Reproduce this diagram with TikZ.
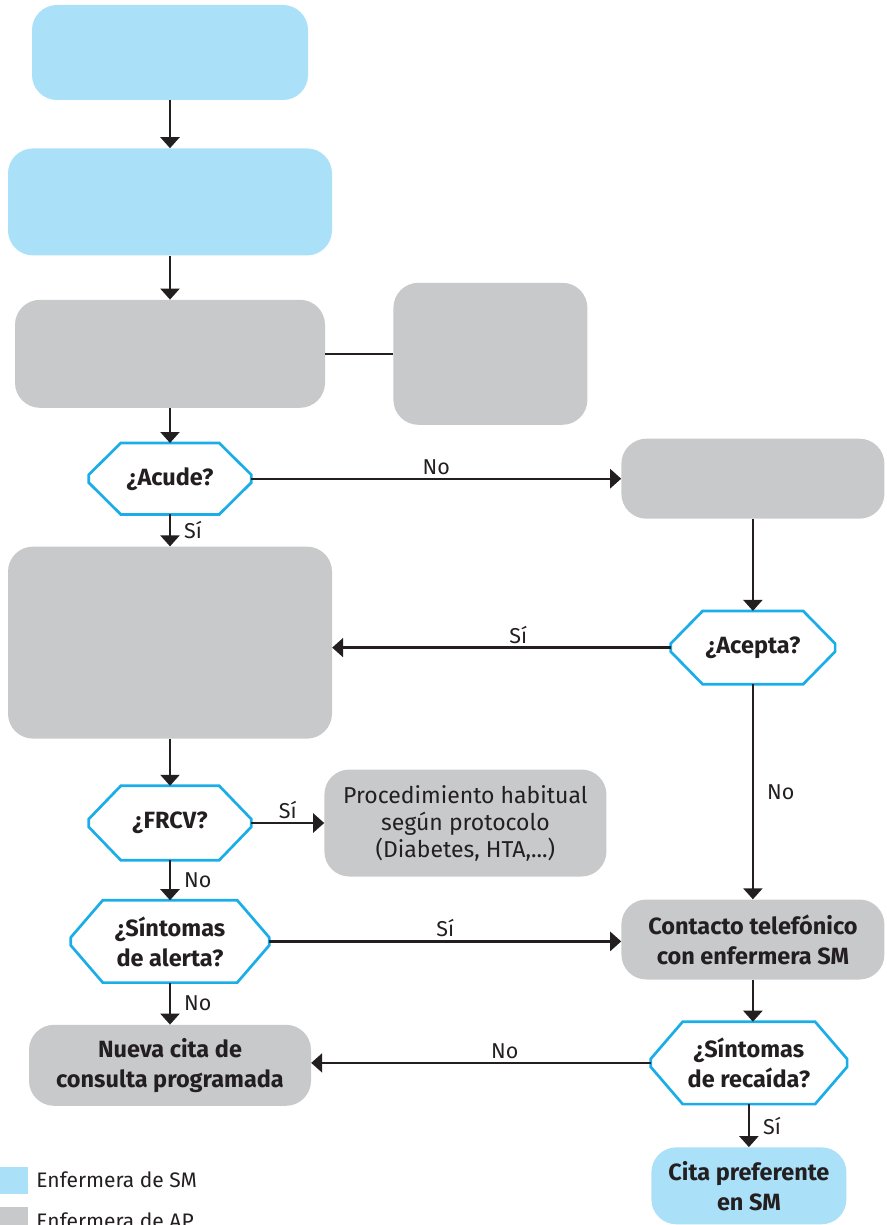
\documentclass[tikz,border=0pt]{standalone}
\usepackage{fontspec}
\setmainfont{Fira Sans}
\usetikzlibrary{arrows.meta, positioning}
\definecolor{smblue}{HTML}{ABE0F9}
\definecolor{apgray}{HTML}{C8C9CB}
\definecolor{hexblue}{HTML}{1AADE8}
\definecolor{ink}{HTML}{231F20}

\begin{document}
\begin{tikzpicture}[x=1pt, y=-1pt, >={Triangle[width=19pt,length=11pt]},
  box/.style={rectangle, rounded corners=25pt, fill=#1, inner sep=0pt, align=center, text=ink, font=\bfseries\fontsize{23.5}{30}\selectfont},
  box/.default=apgray,
  quest/.style={rectangle, inner sep=0pt, align=center, text=ink, font=\bfseries\fontsize{23.5}{30}\selectfont},
  hexline/.style={draw=hexblue, line width=2.7pt, line join=miter},
  link/.style={draw=ink, line width=2.4pt},
  lbl/.style={font=\fontsize{21.5}{24}\selectfont, text=ink, inner sep=3pt},
  legsq/.style={rectangle, inner sep=0pt, minimum width=28pt, minimum height=27pt}]
  \useasboundingbox (0,0) rectangle (886,1225);

  % left column
  \node[box=smblue, minimum width=276pt, minimum height=95pt] (intro) at (170,52.5) {};
  \node[box=smblue, minimum width=324pt, minimum height=107pt, below=48pt of intro] (valora) {};
  \node[box, minimum width=310pt, minimum height=108pt, below=44pt of valora] (deriva) {};
  \node[box, minimum width=194pt, minimum height=142pt, right=68pt of deriva] (informe) {};
  \node[quest, minimum width=162pt, minimum height=71pt, below=35pt of deriva] (acude) {¿Acude?};
  \node[box, minimum width=324pt, minimum height=192pt, below=32pt of acude] (consulta) {};
  \node[quest, minimum width=162pt, minimum height=74pt, below=47pt of consulta] (frcv) {¿FRCV?};
  \node[box, minimum width=282pt, minimum height=107pt, right=73pt of frcv, font=\fontsize{23}{27}\selectfont] (protocolo) {Procedimiento habitual\\según protocolo\\(Diabetes, HTA,...)};
  \node[quest, minimum width=198pt, minimum height=82pt, below=40pt of frcv] (alerta) {¿Síntomas\\de alerta?};
  \node[box, minimum width=282pt, minimum height=81pt, below=42pt of alerta] (nuevacita) {Nueva cita de\\consulta programada};

  % right column
  \node[box, minimum width=263pt, minimum height=80pt, right=370pt of acude] (llamada) {};
  \node[quest, minimum width=164pt, minimum height=73pt, below=92pt of llamada] (acepta) {¿Acepta?};
  \node[box, minimum width=263pt, minimum height=80pt, below=215pt of acepta] (contacto) {Contacto telefónico\\con enfermera SM};
  \node[quest, minimum width=196pt, minimum height=82pt, below=42pt of contacto, xshift=-4pt] (recaida) {¿Síntomas\\de recaída?};
  \node[box=smblue, minimum width=195pt, minimum height=77pt, below=43pt of recaida] (preferente) {Cita preferente\\en SM};

  % decision outlines
  \foreach \n in {acude, acepta, frcv, alerta, recaida}
    \draw[hexline] ([xshift=32pt]\n.north west) -- ([xshift=-32pt]\n.north east)
      -- ([yshift=4pt]\n.east) -- ([yshift=-4pt]\n.east)
      -- ([xshift=-32pt]\n.south east) -- ([xshift=32pt]\n.south west)
      -- ([yshift=-4pt]\n.west) -- ([yshift=4pt]\n.west) -- cycle;

  % connectors
  \draw[link, ->] (intro) -- (valora);
  \draw[link, ->] (valora) -- (deriva);
  \draw[link] (deriva) -- (informe);
  \draw[link, ->] (deriva) -- (acude);
  \draw[link, ->] (acude) -- node[lbl, above] {No} (llamada);
  \draw[link, ->] (acude) -- node[lbl, right, xshift=10pt] {Sí} (consulta);
  \draw[link, ->] (llamada) -- (acepta);
  \draw[link, ->] (acepta) -- node[lbl, above, pos=0.45] {Sí} (acepta -| consulta.east);
  \draw[link, ->] (acepta) -- node[lbl, right, xshift=10pt] {No} (contacto);
  \draw[link, ->] (consulta) -- (frcv);
  \draw[link, ->] (frcv) -- node[lbl, above] {Sí} (protocolo);
  \draw[link, ->] (frcv) -- node[lbl, right, xshift=10pt] {No} (alerta);
  \draw[link, ->] (alerta) -- node[lbl, above] {Sí} (alerta -| contacto.west);
  \draw[link, ->] (alerta) -- node[lbl, right, xshift=10pt] {No} (nuevacita);
  \draw[link, ->] (contacto) -- (contacto |- recaida.north);
  \draw[link, ->] (recaida) -- node[lbl, above, pos=0.43] {No} (recaida -| nuevacita.east);
  \draw[link, ->] (recaida) -- node[lbl, right, xshift=10pt] {Sí} (preferente);

  % legend
  \node[legsq, fill=smblue] (legsm) at (14,1180) {};
  \node[lbl, right=5pt of legsm, font=\fontsize{21}{24}\selectfont] (legsmtxt) {Enfermera de SM};
  \node[legsq, fill=apgray, below=13pt of legsm] (legap) {};
  \node[lbl, right=5pt of legap, font=\fontsize{21}{24}\selectfont] (legaptxt) {Enfermera de AP};
\end{tikzpicture}
\end{document}
